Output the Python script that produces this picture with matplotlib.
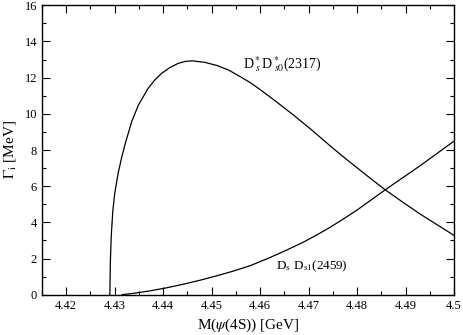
import matplotlib
matplotlib.use("Agg")
import matplotlib.pyplot as plt
from matplotlib.ticker import MultipleLocator, FuncFormatter

# Gamma_i [MeV] vs M(psi(4S)) [GeV]
m_dsds0 = [4.4290, 4.4291, 4.4293, 4.4296, 4.4300, 4.4307, 4.4314, 4.4321, 4.4335,
           4.4349, 4.4369, 4.4383, 4.4397, 4.4414, 4.4431, 4.4446, 4.4460, 4.4485,
           4.4510, 4.4535, 4.4558, 4.4580, 4.4600, 4.4630, 4.4668, 4.4705, 4.4744,
           4.4775, 4.4806, 4.4830, 4.4857, 4.4893, 4.4929, 4.4965, 4.5000]
g_dsds0 = [0.0, 1.8, 3.3, 4.6, 5.6, 6.7, 7.55, 8.28, 9.57,
           10.49, 11.41, 11.88, 12.24, 12.56, 12.79, 12.90, 12.93, 12.85,
           12.68, 12.42, 12.07, 11.72, 11.34, 10.74, 9.95, 9.14, 8.24,
           7.55, 6.89, 6.38, 5.82, 5.14, 4.48, 3.87, 3.28]

m_dsds1 = [4.4315, 4.4340, 4.4370, 4.4407, 4.4440, 4.4476, 4.4510, 4.4544, 4.4580,
           4.4620, 4.4655, 4.4689, 4.4720, 4.4744, 4.4772, 4.4800, 4.4857, 4.4929,
           4.5000]
g_dsds1 = [0.0, 0.08, 0.20, 0.38, 0.57, 0.80, 1.04, 1.30, 1.61,
           2.05, 2.47, 2.90, 3.35, 3.72, 4.19, 4.68, 5.78, 7.11,
           8.49]

plt.rcParams.update({
    "font.family": "serif", "font.serif": ["Liberation Serif", "DejaVu Serif"],
    "mathtext.fontset": "stix",
    "xtick.direction": "in", "ytick.direction": "in",
    "xtick.top": True, "ytick.right": True,
})

fig = plt.figure(figsize=(4.63, 3.35), dpi=100)
ax = fig.add_axes([42 / 463, 1 - 294.7 / 335, 412 / 463, 289.4 / 335])

ax.plot(m_dsds0, g_dsds0, color="black", lw=0.9)
ax.plot(m_dsds1, g_dsds1, color="black", lw=0.9)

ax.set_xlim(4.415, 4.5)
ax.set_ylim(0, 16)
ax.xaxis.set_major_locator(MultipleLocator(0.01))
ax.xaxis.set_minor_locator(MultipleLocator(0.005))
ax.yaxis.set_major_locator(MultipleLocator(2))
ax.yaxis.set_minor_locator(MultipleLocator(1))
ax.xaxis.set_major_formatter(FuncFormatter(lambda v, p: f"{v:.2f}".rstrip("0")))
ax.tick_params(which="major", length=6, width=0.8, labelsize=9)
ax.tick_params(which="minor", length=3, width=0.8)
for s in ax.spines.values():
    s.set_linewidth(1.0)

ax.set_xlabel(r"M($\psi$(4S)) [GeV]", fontsize=11)
ax.set_ylabel(r"$\Gamma_{\rm i}$ [MeV]", fontsize=11, labelpad=5)

ax.text(4.4564, 12.5, r"D$^*_{\ s}$D$^*_{\ s0}$(2317)", fontsize=10)
ax.text(4.4632, 1.42, r"D$_{\rm s}$ D$_{\rm s1}$(2459)", fontsize=9.5)

fig.savefig("out.png", dpi=100)
